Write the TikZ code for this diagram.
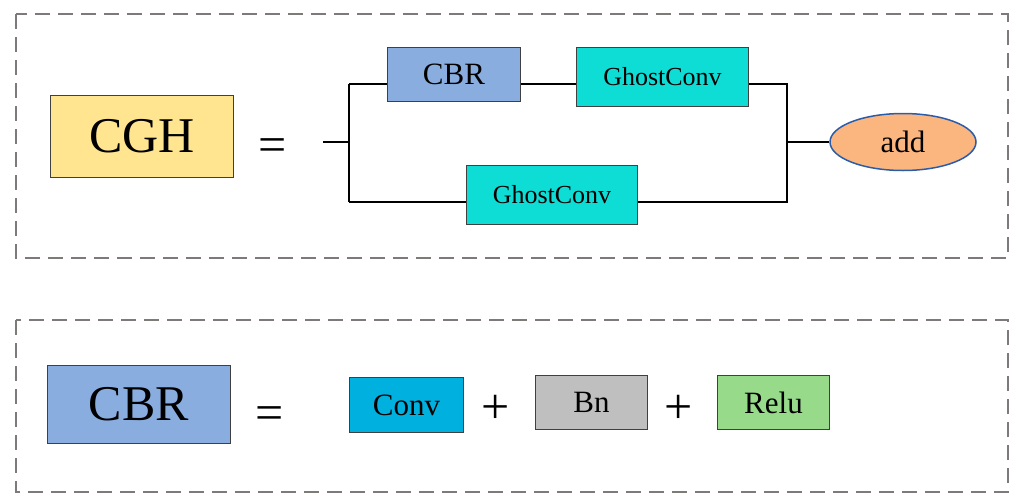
\documentclass[tikz,border=0pt]{standalone}
\usepackage{fontspec}
\setmainfont{Liberation Serif}
\usetikzlibrary{shapes.geometric}
\definecolor{frameGray}{HTML}{7F7A7A}
\definecolor{cghYellow}{HTML}{FFE58F}
\definecolor{cbrBlue}{HTML}{8AADE0}
\definecolor{ghostCyan}{HTML}{0EDDD6}
\definecolor{addOrange}{HTML}{FBB57F}
\definecolor{addEdge}{HTML}{2A5CAA}
\definecolor{convBlue}{HTML}{00B0DE}
\definecolor{bnGray}{HTML}{BFBFBF}
\definecolor{reluGreen}{HTML}{96DA8A}
\tikzset{
  frame/.style={draw=frameGray, line width=2pt, dash pattern=on 15pt off 8pt},
  block/.style={draw=black!75, line width=1pt, inner sep=0pt, anchor=north west},
  wire/.style={draw=black, line width=2pt},
  big/.style={font=\fontsize{50}{56}\selectfont},
  mid/.style={font=\fontsize{31}{34}\selectfont},
  small/.style={font=\fontsize{26}{30}\selectfont},
}
\begin{document}
\begin{tikzpicture}[x=1pt,y=-1pt]
\useasboundingbox (0,0) rectangle (1012,493);

% outer frames
\draw[frame] (16,14) rectangle (1008,258);
\draw[frame] (16,320) rectangle (1008,492);

% ---- CGH definition ----
\node[block, fill=cghYellow, minimum width=183pt, minimum height=82pt, big] (cgh) at (50,95) {CGH};
\node[big] (eq1) at (273,150) {=};

\coordinate (in) at (323,142);
\coordinate (split) at (349,142);
\coordinate (splitTop) at (349,84);
\coordinate (splitBot) at (349,202);

\node[block, fill=cbrBlue, minimum width=133pt, minimum height=54pt, mid] (cbr1) at (387,47) {CBR};
\node[block, fill=ghostCyan, minimum width=172pt, minimum height=59pt, small] (gc1) at (576,47) {GhostConv};
\node[block, fill=ghostCyan, minimum width=171pt, minimum height=59pt, small] (gc2) at (466,165) {GhostConv};

\coordinate (joinTop) at (787,84);
\coordinate (joinBot) at (787,202);
\coordinate (join) at (787,142);

\node[ellipse, draw=addEdge, line width=1.5pt, fill=addOrange, minimum width=146pt, minimum height=57pt, inner sep=0pt, font=\fontsize{31}{34}\selectfont] (add) at (903,142) {add};

\draw[wire] (in) -- (split);
\draw[wire] (splitTop) -- (splitBot);
\draw[wire] (splitTop) -- (cbr1.west |- splitTop);
\draw[wire] (cbr1.east |- splitTop) -- (gc1.west |- splitTop);
\draw[wire] (gc1.east |- joinTop) -- (joinTop) -- (joinBot) -- (gc2.east |- joinBot);
\draw[wire] (splitBot) -- (gc2.west |- splitBot);
\draw[wire] (join) -- (add.west);

% ---- CBR definition ----
\node[block, fill=cbrBlue, minimum width=183pt, minimum height=78pt, big] (cbr2) at (47,365) {CBR};
\node[big] (eq2) at (270,418) {=};
\node[block, fill=convBlue, minimum width=114pt, minimum height=55pt, mid] (conv) at (349,377) {Conv};
\node[big] (plus1) at (496,409) {+};
\node[block, fill=bnGray, minimum width=112pt, minimum height=54pt, mid] (bn) at (535,375) {Bn};
\node[big] (plus2) at (679,409) {+};
\node[block, fill=reluGreen, minimum width=112pt, minimum height=54pt, mid] (relu) at (717,375) {Relu};
\end{tikzpicture}
\end{document}
